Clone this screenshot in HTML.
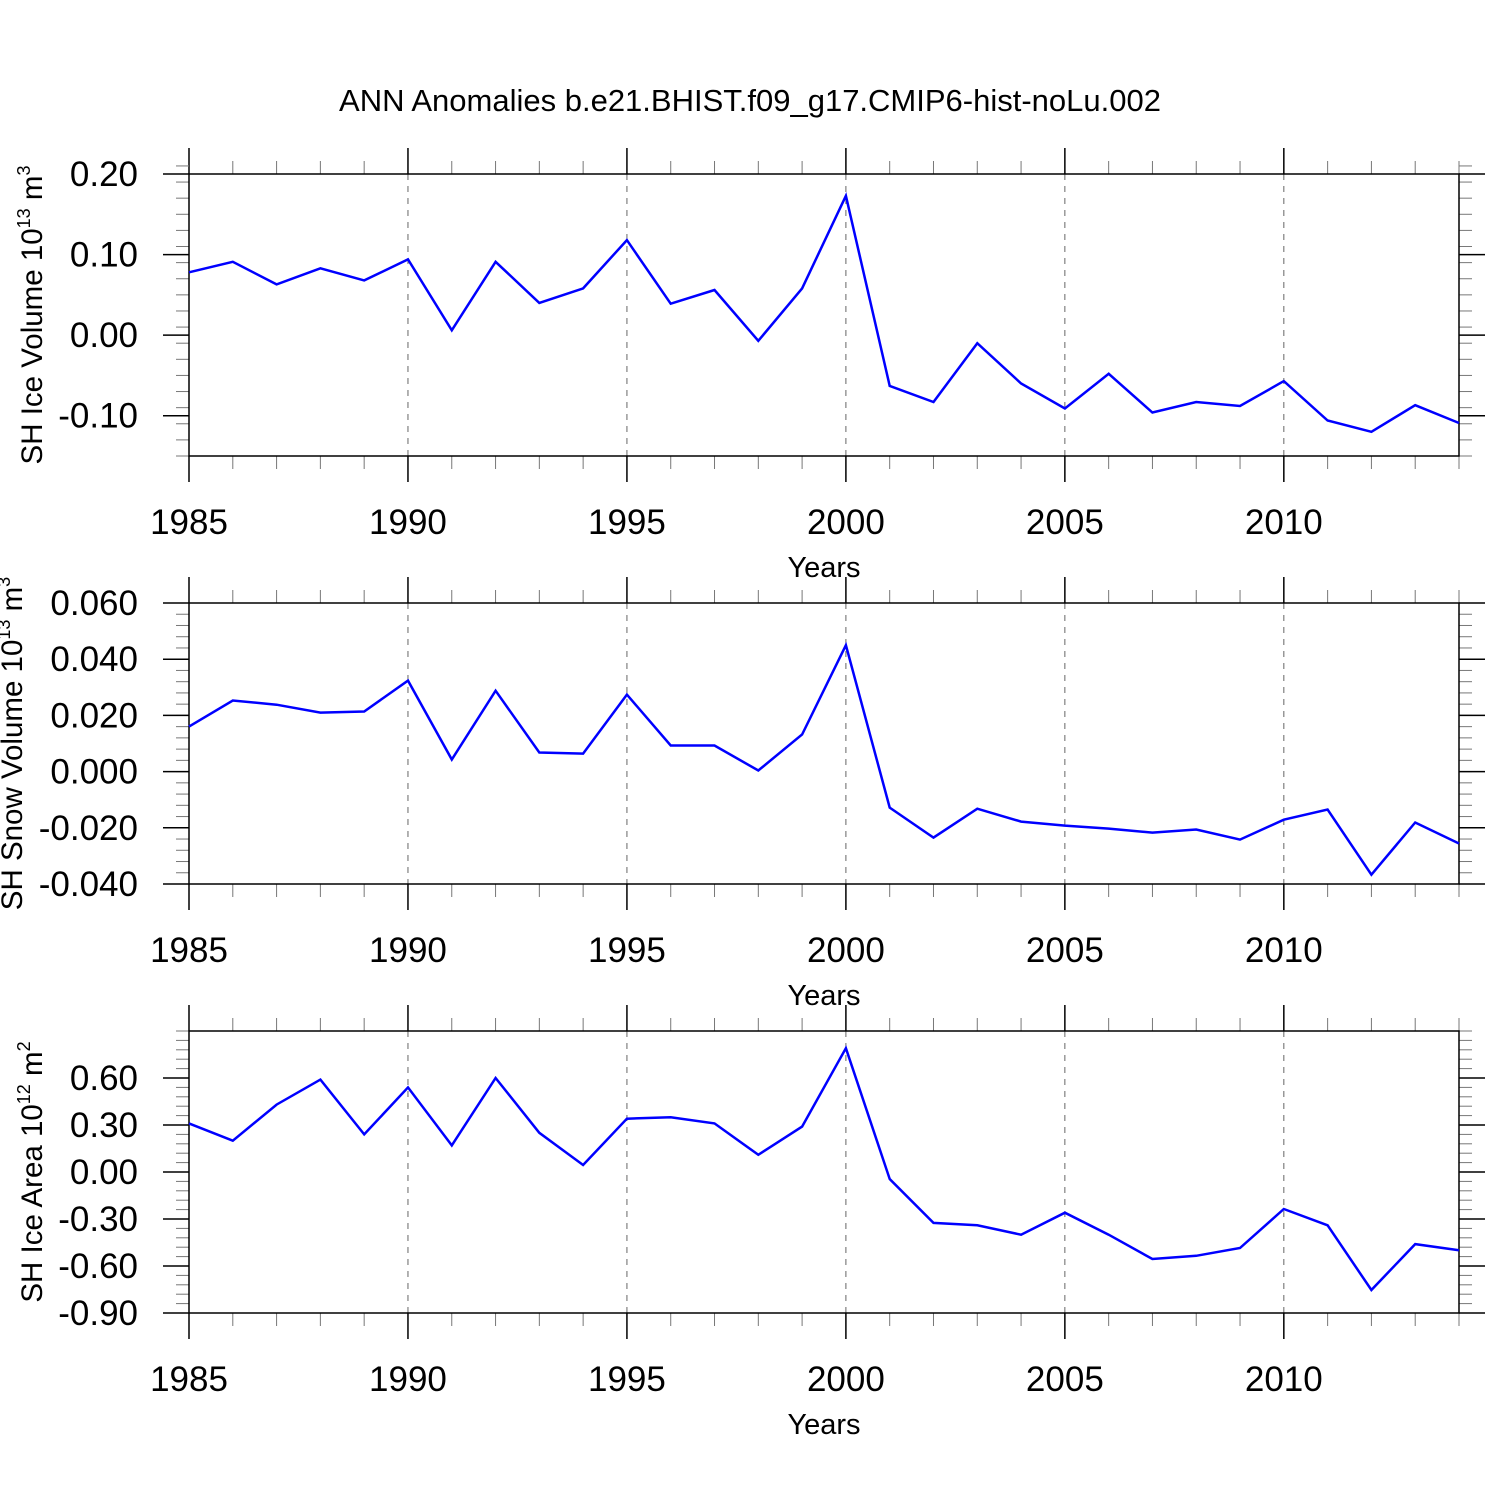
<!DOCTYPE html>
<html><head><meta charset="utf-8"><style>
html,body{margin:0;padding:0;background:#fff;}
svg{display:block;font-family:"Liberation Sans",sans-serif;}
</style></head><body>
<svg id="chart" width="1500" height="1500" viewBox="0 0 1500 1500" xmlns="http://www.w3.org/2000/svg">
<text x="750" y="111" font-size="31" text-anchor="middle">ANN Anomalies b.e21.BHIST.f09_g17.CMIP6-hist-noLu.002</text>
</svg>
<script>
const years = [1985,1986,1987,1988,1989,1990,1991,1992,1993,1994,1995,1996,1997,1998,1999,2000,2001,2002,2003,2004,2005,2006,2007,2008,2009,2010,2011,2012,2013,2014];
const iceVolume = [0.078,0.091,0.063,0.083,0.068,0.094,0.006,0.091,0.040,0.058,0.118,0.039,0.056,-0.007,0.058,0.173,-0.063,-0.083,-0.010,-0.060,-0.091,-0.048,-0.096,-0.083,-0.088,-0.057,-0.106,-0.120,-0.087,-0.109];
const snowVolume = [0.016,0.0253,0.0238,0.021,0.0214,0.0324,0.0043,0.0288,0.0068,0.0064,0.0274,0.0093,0.0093,0.0004,0.0132,0.045,-0.0128,-0.0235,-0.0132,-0.0178,-0.0192,-0.0203,-0.0217,-0.0206,-0.0242,-0.0171,-0.0135,-0.0367,-0.0181,-0.0256];
const iceArea = [0.31,0.20,0.43,0.59,0.24,0.54,0.17,0.60,0.25,0.045,0.34,0.35,0.31,0.11,0.29,0.79,-0.045,-0.325,-0.34,-0.40,-0.26,-0.40,-0.555,-0.535,-0.485,-0.236,-0.34,-0.753,-0.46,-0.50];
const iceVolTicks = [0.20,0.10,0.00,-0.10];
const snowTicks = [0.060,0.040,0.020,0.000,-0.020,-0.040];
const areaTicks = [0.60,0.30,0.00,-0.30,-0.60,-0.90];
const xTickLabels = [1985,1990,1995,2000,2005,2010];

const NS="http://www.w3.org/2000/svg";
const svg=document.getElementById('chart');
function el(tag,attrs,parent){const e=document.createElementNS(NS,tag);for(const k in attrs)e.setAttribute(k,attrs[k]);(parent||svg).appendChild(e);return e;}
const X0=189,X1=1459;
function xs(yr){return X0+(yr-1985)*(X1-X0)/(2014-1985);}

function panel(name,top,bottom,ymin,ymax,ticks,dec,minorStep,data,titleMain,sup,unit,titleX){
  const g=el('g',{});
  
  
  const ys=v=>bottom-(v-ymin)*(bottom-top)/(ymax-ymin);
  [1990,1995,2000,2005,2010].forEach(yr=>{
    const l=el('line',{x1:xs(yr),x2:xs(yr),y1:top,y2:bottom,stroke:'#666','stroke-width':1,'stroke-dasharray':'6,6'},g);
    
    
  });
  for(let yr=1985;yr<=2014;yr++){
    const major=yr%5===0;const len=major?26:13;
    el('line',{x1:xs(yr),x2:xs(yr),y1:top,y2:top-len,stroke:major?'#000':'#777','stroke-width':major?1.5:1},g);
    el('line',{x1:xs(yr),x2:xs(yr),y1:bottom,y2:bottom+len,stroke:major?'#000':'#777','stroke-width':major?1.5:1},g);
  }
  const n=Math.round((ymax-ymin)/minorStep);
  for(let i=0;i<=n;i++){
    const v=ymin+i*minorStep;const y=ys(v);
    el('line',{x1:X0,x2:X0-13,y1:y,y2:y,stroke:'#777','stroke-width':1},g);
    el('line',{x1:X1,x2:X1+13,y1:y,y2:y,stroke:'#777','stroke-width':1},g);
  }
  ticks.forEach(v=>{
    const y=ys(v);
    el('line',{x1:X0,x2:X0-26,y1:y,y2:y,stroke:'#000','stroke-width':1.5},g);
    el('line',{x1:X1,x2:X1+26,y1:y,y2:y,stroke:'#000','stroke-width':1.5},g);
    const t=el('text',{x:138,y:y+12,'font-size':35,'text-anchor':'end'},g);
    
    
    t.textContent=v.toFixed(dec);
  });
  xTickLabels.forEach(yr=>{
    const t=el('text',{x:xs(yr),y:bottom+78,'font-size':35,'text-anchor':'middle'},g);
    
    
    t.textContent=yr;
  });
  const xt=el('text',{x:824,y:bottom+121,'font-size':29,'text-anchor':'middle'},g);
  
  
  xt.textContent='Years';
  const b=el('rect',{x:X0,y:top,width:X1-X0,height:bottom-top,fill:'none',stroke:'#000','stroke-width':1.5},g);
  
  
  const pts=years.map((yr,i)=>xs(yr).toFixed(1)+','+ys(data[i]).toFixed(1)).join(' ');
  const pl=el('polyline',{points:pts,fill:'none',stroke:'#0000ff','stroke-width':2.5,'stroke-linejoin':'miter'},g);
  
  
  const cy=(top+bottom)/2;
  const yt=el('text',{x:0,y:0,'font-size':29.5,'text-anchor':'middle',transform:'translate('+titleX+','+cy+') rotate(-90)'},g);
  
  
  const s1=el('tspan',{},yt);s1.textContent=titleMain+' 10';
  const s2=el('tspan',{dy:-12,'font-size':18},yt);s2.textContent=sup;
  const s3=el('tspan',{dy:12},yt);s3.textContent=' m';
  const s4=el('tspan',{dy:-12,'font-size':18},yt);s4.textContent=unit;
}
panel('ice-volume',174,456,-0.15,0.20,iceVolTicks,2,0.02,iceVolume,'SH Ice Volume','13','3',42);
panel('snow-volume',603,884,-0.04,0.06,snowTicks,3,0.004,snowVolume,'SH Snow Volume','13','3',22);
panel('ice-area',1031,1313,-0.90,0.90,areaTicks,2,0.06,iceArea,'SH Ice Area','12','2',42);
</script>
</body></html>
